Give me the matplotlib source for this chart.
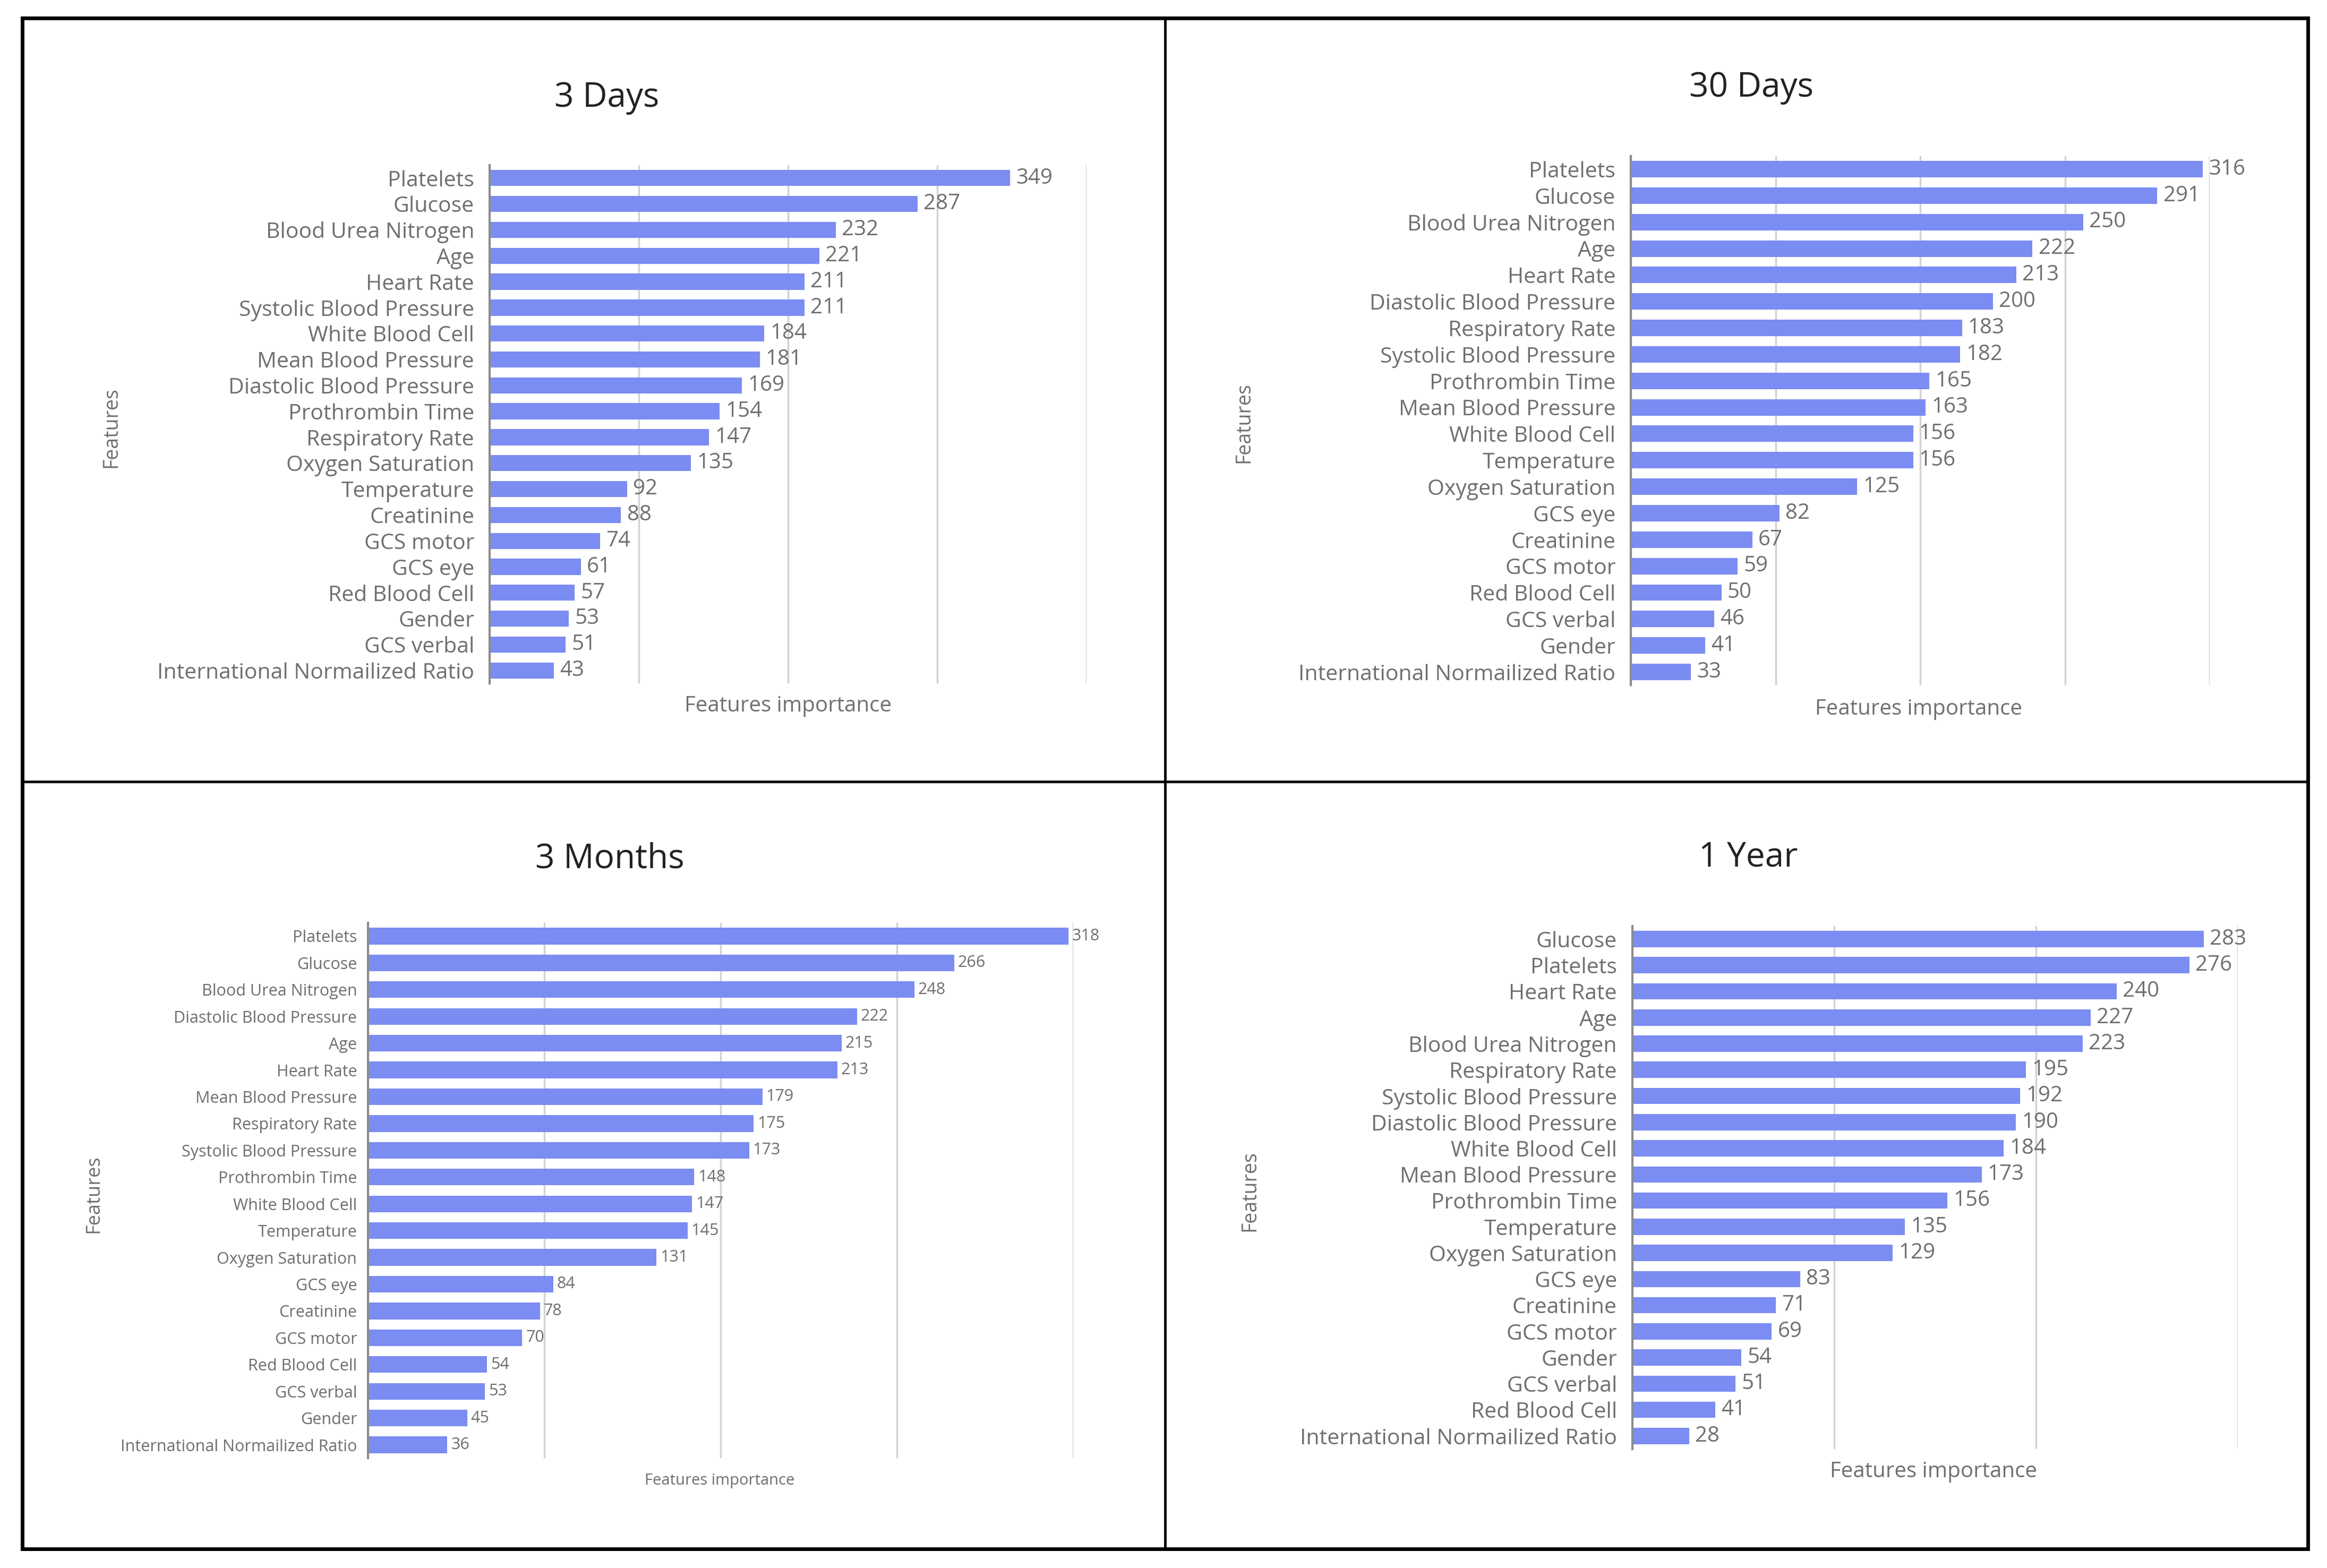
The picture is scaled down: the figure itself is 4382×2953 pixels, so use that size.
import matplotlib
matplotlib.use("Agg")
import matplotlib.pyplot as plt
from matplotlib.lines import Line2D

plt.rcParams['font.family'] = ['Open Sans', 'DejaVu Sans']

# ---------------- data ----------------
feat_3d = ["Platelets", "Glucose", "Blood Urea Nitrogen", "Age", "Heart Rate",
           "Systolic Blood Pressure", "White Blood Cell", "Mean Blood Pressure",
           "Diastolic Blood Pressure", "Prothrombin Time", "Respiratory Rate",
           "Oxygen Saturation", "Temperature", "Creatinine", "GCS motor", "GCS eye",
           "Red Blood Cell", "Gender", "GCS verbal", "International Normailized Ratio"]
vals_3d = [349, 287, 232, 221, 211, 211, 184, 181, 169, 154, 147, 135, 92, 88, 74, 61, 57, 53, 51, 43]

feat_30d = ["Platelets", "Glucose", "Blood Urea Nitrogen", "Age", "Heart Rate",
            "Diastolic Blood Pressure", "Respiratory Rate", "Systolic Blood Pressure",
            "Prothrombin Time", "Mean Blood Pressure", "White Blood Cell", "Temperature",
            "Oxygen Saturation", "GCS eye", "Creatinine", "GCS motor", "Red Blood Cell",
            "GCS verbal", "Gender", "International Normailized Ratio"]
vals_30d = [316, 291, 250, 222, 213, 200, 183, 182, 165, 163, 156, 156, 125, 82, 67, 59, 50, 46, 41, 33]

feat_3m = ["Platelets", "Glucose", "Blood Urea Nitrogen", "Diastolic Blood Pressure", "Age",
           "Heart Rate", "Mean Blood Pressure", "Respiratory Rate", "Systolic Blood Pressure",
           "Prothrombin Time", "White Blood Cell", "Temperature", "Oxygen Saturation",
           "GCS eye", "Creatinine", "GCS motor", "Red Blood Cell", "GCS verbal", "Gender",
           "International Normailized Ratio"]
vals_3m = [318, 266, 248, 222, 215, 213, 179, 175, 173, 148, 147, 145, 131, 84, 78, 70, 54, 53, 45, 36]

feat_1y = ["Glucose", "Platelets", "Heart Rate", "Age", "Blood Urea Nitrogen",
           "Respiratory Rate", "Systolic Blood Pressure", "Diastolic Blood Pressure",
           "White Blood Cell", "Mean Blood Pressure", "Prothrombin Time", "Temperature",
           "Oxygen Saturation", "GCS eye", "Creatinine", "GCS motor", "Gender", "GCS verbal",
           "Red Blood Cell", "International Normailized Ratio"]
vals_1y = [283, 276, 240, 227, 223, 195, 192, 190, 184, 173, 156, 135, 129, 83, 71, 69, 54, 51, 41, 28]

titles = ["3 Days", "30 Days", "3 Months", "1 Year"]
xlabel = "Features importance"
ylabel = "Features"

# ---------------- layout ----------------
W, H = 1568.0, 1057.0
fig = plt.figure(figsize=(43.82, 29.53), dpi=100)
fig.patch.set_facecolor("white")

def fx(x):
    return x / W

def fy(y):
    return 1 - y / H

BAR = "#7b8cf2"
TXT = "#6f6f6f"

panels = [
    dict(feat=feat_3d, vals=vals_3d, title=titles[0], box=(330, 732, 111.3, 460.7), xmax=400, step=100,
         tpos=(409, 66), xl=(531, 476), yl=(75, 288), fs=29.5, vfs=29, xfs=29, yfs=27, pad=21, voff=8),
    dict(feat=feat_30d, vals=vals_30d, title=titles[1], box=(1099, 1489, 105.1, 461.9), xmax=320, step=80,
         tpos=(1180, 59), xl=(1293, 478), yl=(838, 285), fs=29.5, vfs=29, xfs=29, yfs=27, pad=21, voff=8),
    dict(feat=feat_3m, vals=vals_3m, title=titles[2], box=(248, 723, 622.0, 983.0), xmax=320, step=80,
         tpos=(411, 579), xl=(485, 998), yl=(63, 805), fs=22, vfs=22, xfs=21, yfs=26, pad=15, voff=5),
    dict(feat=feat_1y, vals=vals_1y, title=titles[3], box=(1100, 1508, 624.2, 976.8), xmax=300, step=100,
         tpos=(1178, 578), xl=(1303, 992), yl=(842, 803), fs=29.5, vfs=29, xfs=29, yfs=27, pad=21, voff=8),
]

for p in panels:
    l, r, t, b = p["box"]
    ax = fig.add_axes([fx(l), fy(b), fx(r) - fx(l), fy(t) - fy(b)])
    n = len(p["feat"])
    ypos = list(range(n))
    ax.barh(ypos, p["vals"], height=0.62, color=BAR, zorder=3)
    ax.set_ylim(n - 0.5, -0.5)
    ax.set_xlim(0, p["xmax"])
    ax.set_yticks(ypos)
    ax.set_yticklabels(p["feat"], fontsize=p["fs"], color=TXT)
    ax.set_xticks(list(range(p["step"], p["xmax"] + 1, p["step"])))
    ax.set_xticklabels([])
    ax.tick_params(axis="x", length=0)
    ax.tick_params(axis="y", length=0, pad=p["pad"])
    ax.grid(axis="x", color="#d2d2d2", linewidth=2.5, zorder=0)
    for s in ["top", "right", "bottom"]:
        ax.spines[s].set_visible(False)
    ax.spines["left"].set_color("#8c8c8c")
    ax.spines["left"].set_linewidth(3)
    ax.spines["left"].set_zorder(4)
    for yi, v in zip(ypos, p["vals"]):
        ax.annotate(str(v), (v, yi), xytext=(p["voff"], 0), textcoords="offset points",
                    va="center", ha="left", fontsize=p["vfs"], color=TXT, zorder=5)
    fig.text(fx(p["tpos"][0]), fy(p["tpos"][1]), p["title"], ha="center", va="center",
             fontsize=46, color="#222222")
    fig.text(fx(p["xl"][0]), fy(p["xl"][1]), xlabel, ha="center", va="center",
             fontsize=p["xfs"], color=TXT)
    fig.text(fx(p["yl"][0]), fy(p["yl"][1]), ylabel, ha="center", va="center",
             rotation=90, fontsize=p["yfs"], color=TXT)

# ---------------- borders ----------------
def hline(y, x0, x1, lw):
    fig.add_artist(Line2D([fx(x0), fx(x1)], [fy(y), fy(y)], color="black", linewidth=lw))

def vline(x, y0, y1, lw):
    fig.add_artist(Line2D([fx(x), fx(x)], [fy(y0), fy(y1)], color="black", linewidth=lw))

hline(12, 15, 1555, 5)
hline(1044, 15, 1555, 5)
vline(15, 12, 1044, 5)
vline(1555, 12, 1044, 5)
hline(527, 15, 1555, 3.5)
vline(785, 12, 1044, 3.5)

fig.savefig("out.png", dpi=100, facecolor="white")
